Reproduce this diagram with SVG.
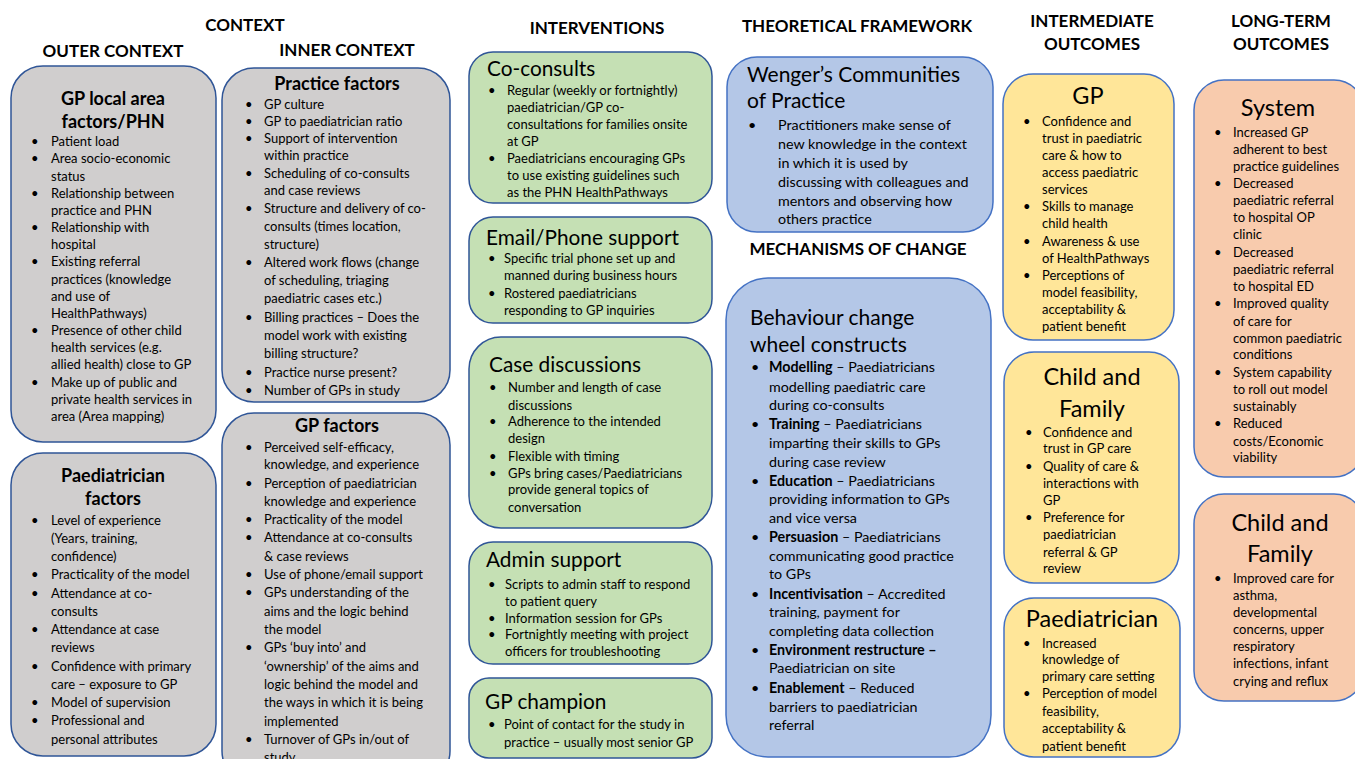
<svg xmlns="http://www.w3.org/2000/svg" width="1355" height="759" viewBox="0 0 1355 759">
<style>
text{font-family:Lato,"Liberation Sans",sans-serif;fill:#000}
.h{font-size:17px;font-weight:bold;text-anchor:middle}
.t{font-size:18px;font-weight:bold;text-anchor:middle}
.ti{font-size:20.8px}
.tc{font-size:23.5px;text-anchor:middle}
.b{font-size:13px}
.bb{font-size:14.3px}
.grey{fill:#d0cece;stroke:#2f5597;stroke-width:1.5}
.green{fill:#c5e0b4;stroke:#2f5597;stroke-width:1.5}
.blue{fill:#b4c7e7;stroke:#4472c4;stroke-width:1.5}
.yellow{fill:#ffe699;stroke:#4472c4;stroke-width:1.5}
.orange{fill:#f8cbad;stroke:#4472c4;stroke-width:1.5}
</style>
<rect width="1355" height="759" fill="#fff"/>
<g id="headers">
<text class="h" x="245" y="31">CONTEXT</text>
<text class="h" x="113" y="57">OUTER CONTEXT</text>
<text class="h" x="347" y="56">INNER CONTEXT</text>
<text class="h" x="597" y="34">INTERVENTIONS</text>
<text class="h" x="857" y="32">THEORETICAL FRAMEWORK</text>
<text class="h" x="858" y="255">MECHANISMS OF CHANGE</text>
<text class="h" x="1092" y="27">INTERMEDIATE</text>
<text class="h" x="1092" y="50">OUTCOMES</text>
<text class="h" x="1281" y="27">LONG-TERM</text>
<text class="h" x="1281" y="50">OUTCOMES</text>
</g>

<g id="gp-local-area">
<rect class="grey" x="11" y="66" width="205" height="376" rx="32"/>
<text class="t" x="113" y="105">GP local area</text>
<text class="t" x="113" y="128">factors/PHN</text>
<g class="b">
<text x="31" y="146">•</text><text x="51" y="146">Patient load</text>
<text x="31" y="163">•</text><text x="51" y="163">Area socio-economic</text>
<text x="51" y="180.5">status</text>
<text x="31" y="197.5">•</text><text x="51" y="197.5">Relationship between</text>
<text x="51" y="215">practice and PHN</text>
<text x="31" y="232">•</text><text x="51" y="232">Relationship with</text>
<text x="51" y="249">hospital</text>
<text x="31" y="266">•</text><text x="51" y="266">Existing referral</text>
<text x="51" y="283.5">practices (knowledge</text>
<text x="51" y="300.5">and use of</text>
<text x="51" y="318">HealthPathways)</text>
<text x="31" y="335">•</text><text x="51" y="335">Presence of other child</text>
<text x="51" y="352">health services (e.g.</text>
<text x="51" y="369">allied health) close to GP</text>
<text x="31" y="387">•</text><text x="51" y="387">Make up of public and</text>
<text x="51" y="404">private health services in</text>
<text x="51" y="421">area (Area mapping)</text>
</g>
</g>

<g id="paediatrician-factors">
<rect class="grey" x="11" y="453" width="205" height="303" rx="32"/>
<text class="t" x="113" y="482">Paediatrician</text>
<text class="t" x="113" y="505">factors</text>
<g class="b">
<text x="31" y="524.5">•</text><text x="51" y="524.5">Level of experience</text>
<text x="51" y="542.5">(Years, training,</text>
<text x="51" y="561">confidence)</text>
<text x="31" y="579">•</text><text x="51" y="579">Practicality of the model</text>
<text x="31" y="597.5">•</text><text x="51" y="597.5">Attendance at co-</text>
<text x="51" y="616">consults</text>
<text x="31" y="634">•</text><text x="51" y="634">Attendance at case</text>
<text x="51" y="652">reviews</text>
<text x="31" y="670.5">•</text><text x="51" y="670.5">Confidence with primary</text>
<text x="51" y="689">care – exposure to GP</text>
<text x="31" y="707">•</text><text x="51" y="707">Model of supervision</text>
<text x="31" y="725">•</text><text x="51" y="725">Professional and</text>
<text x="51" y="743.5">personal attributes</text>
</g>
</g>

<g id="practice-factors">
<rect class="grey" x="222" y="68" width="228" height="334" rx="32"/>
<text class="t" x="337" y="90">Practice factors</text>
<g class="b">
<text x="245" y="108.5">•</text><text x="264" y="108.5">GP culture</text>
<text x="245" y="126">•</text><text x="264" y="126">GP to paediatrician ratio</text>
<text x="245" y="142.5">•</text><text x="264" y="142.5">Support of intervention</text>
<text x="264" y="160">within practice</text>
<text x="245" y="177.5">•</text><text x="264" y="177.5">Scheduling of co-consults</text>
<text x="264" y="195">and case reviews</text>
<text x="245" y="212.5">•</text><text x="264" y="212.5">Structure and delivery of co-</text>
<text x="264" y="231">consults (times location,</text>
<text x="264" y="249">structure)</text>
<text x="245" y="267">•</text><text x="264" y="267">Altered work flows (change</text>
<text x="264" y="285">of scheduling, triaging</text>
<text x="264" y="303">paediatric cases etc.)</text>
<text x="245" y="322">•</text><text x="264" y="322">Billing practices – Does the</text>
<text x="264" y="340">model work with existing</text>
<text x="264" y="358">billing structure?</text>
<text x="245" y="377">•</text><text x="264" y="377">Practice nurse present?</text>
<text x="245" y="395">•</text><text x="264" y="395">Number of GPs in study</text>
</g>
</g>

<g id="gp-factors">
<rect class="grey" x="222" y="413" width="228" height="370" rx="32"/>
<text class="t" x="337" y="432">GP factors</text>
<g class="b">
<text x="245" y="451.5">•</text><text x="264" y="451.5">Perceived self-efficacy,</text>
<text x="264" y="469">knowledge, and experience</text>
<text x="245" y="487.5">•</text><text x="264" y="487.5">Perception of paediatrician</text>
<text x="264" y="505.5">knowledge and experience</text>
<text x="245" y="523.5">•</text><text x="264" y="523.5">Practicality of the model</text>
<text x="245" y="542">•</text><text x="264" y="542">Attendance at co-consults</text>
<text x="264" y="560.5">&amp; case reviews</text>
<text x="245" y="578.5">•</text><text x="264" y="578.5">Use of phone/email support</text>
<text x="245" y="597">•</text><text x="264" y="597">GPs understanding of the</text>
<text x="264" y="615.5">aims and the logic behind</text>
<text x="264" y="633.5">the model</text>
<text x="245" y="652">•</text><text x="264" y="652">GPs ‘buy into’ and</text>
<text x="264" y="670.5">‘ownership’ of the aims and</text>
<text x="264" y="688.5">logic behind the model and</text>
<text x="264" y="707">the ways in which it is being</text>
<text x="264" y="725.5">implemented</text>
<text x="245" y="743.5">•</text><text x="264" y="743.5">Turnover of GPs in/out of</text>
<text x="264" y="762">study</text>
</g>
</g>

<g id="co-consults">
<rect class="green" x="469" y="52" width="243" height="151" rx="24"/>
<text class="ti" x="487" y="76">Co-consults</text>
<g class="b">
<text x="488" y="95">•</text><text x="507" y="95">Regular (weekly or fortnightly)</text>
<text x="507" y="112">paediatrician/GP co-</text>
<text x="507" y="129">consultations for families onsite</text>
<text x="507" y="146">at GP</text>
<text x="488" y="163">•</text><text x="507" y="163">Paediatricians encouraging GPs</text>
<text x="507" y="180">to use existing guidelines such</text>
<text x="507" y="197">as the PHN HealthPathways</text>
</g>
</g>

<g id="email-phone-support">
<rect class="green" x="469" y="217" width="243" height="106" rx="24"/>
<text class="ti" x="486" y="245">Email/Phone support</text>
<g class="b">
<text x="488" y="262.5">•</text><text x="504" y="262.5">Specific trial phone set up and</text>
<text x="504" y="280">manned during business hours</text>
<text x="488" y="297.5">•</text><text x="504" y="297.5">Rostered paediatricians</text>
<text x="504" y="315">responding to GP inquiries</text>
</g>
</g>

<g id="case-discussions">
<rect class="green" x="469" y="337" width="243" height="191" rx="32"/>
<text class="ti" x="489" y="372">Case discussions</text>
<g class="b">
<text x="489" y="391.5">•</text><text x="508" y="391.5">Number and length of case</text>
<text x="508" y="409.5">discussions</text>
<text x="489" y="425.5">•</text><text x="508" y="425.5">Adherence to the intended</text>
<text x="508" y="442.5">design</text>
<text x="489" y="460.5">•</text><text x="508" y="460.5">Flexible with timing</text>
<text x="489" y="477.5">•</text><text x="508" y="477.5">GPs bring cases/Paediatricians</text>
<text x="508" y="493.5">provide general topics of</text>
<text x="508" y="511.5">conversation</text>
</g>
</g>

<g id="admin-support">
<rect class="green" x="469" y="542" width="243" height="122" rx="24"/>
<text class="ti" x="486" y="567">Admin support</text>
<g class="b">
<text x="488" y="588.5">•</text><text x="505" y="588.5">Scripts to admin staff to respond</text>
<text x="505" y="605.5">to patient query</text>
<text x="488" y="622.5">•</text><text x="505" y="622.5">Information session for GPs</text>
<text x="488" y="638.5">•</text><text x="505" y="638.5">Fortnightly meeting with project</text>
<text x="505" y="655.5">officers for troubleshooting</text>
</g>
</g>

<g id="gp-champion">
<rect class="green" x="469" y="678" width="243" height="80" rx="20"/>
<text class="ti" x="485" y="709">GP champion</text>
<g class="b">
<text x="488" y="728.5">•</text><text x="504" y="728.5">Point of contact for the study in</text>
<text x="504" y="746.5">practice – usually most senior GP</text>
</g>
</g>

<g id="wenger">
<rect class="blue" x="727" y="57" width="266" height="175" rx="30"/>
<text class="ti" x="747" y="82" style="font-size:21px">Wenger’s Communities</text>
<text class="ti" x="747" y="108" style="font-size:21px">of Practice</text>
<g class="bb">
<text x="748" y="130">•</text><text x="778" y="130">Practitioners make sense of</text>
<text x="778" y="149">new knowledge in the context</text>
<text x="778" y="168">in which it is used by</text>
<text x="778" y="187">discussing with colleagues and</text>
<text x="778" y="206">mentors and observing how</text>
<text x="778" y="224">others practice</text>
</g>
</g>

<g id="behaviour-change">
<rect class="blue" x="726" y="278" width="265" height="479" rx="42"/>
<text class="ti" x="750" y="325" style="font-size:21px">Behaviour change</text>
<text class="ti" x="750" y="352" style="font-size:21px">wheel constructs</text>
<g class="bb">
<text x="751" y="372">•</text><text x="769" y="372"><tspan font-weight="bold">Modelling</tspan> – Paediatricians</text>
<text x="769" y="392">modelling paediatric care</text>
<text x="769" y="410">during co-consults</text>
<text x="751" y="429">•</text><text x="769" y="429"><tspan font-weight="bold">Training</tspan> – Paediatricians</text>
<text x="769" y="448">imparting their skills to GPs</text>
<text x="769" y="467">during case review</text>
<text x="751" y="486">•</text><text x="769" y="486"><tspan font-weight="bold">Education</tspan> – Paediatricians</text>
<text x="769" y="504">providing information to GPs</text>
<text x="769" y="523">and vice versa</text>
<text x="751" y="542">•</text><text x="769" y="542"><tspan font-weight="bold">Persuasion</tspan> – Paediatricians</text>
<text x="769" y="561">communicating good practice</text>
<text x="769" y="579">to GPs</text>
<text x="751" y="599">•</text><text x="769" y="599"><tspan font-weight="bold">Incentivisation</tspan> – Accredited</text>
<text x="769" y="617">training, payment for</text>
<text x="769" y="636">completing data collection</text>
<text x="751" y="655">•</text><text x="769" y="655"><tspan font-weight="bold">Environment restructure –</tspan></text>
<text x="769" y="673">Paediatrician on site</text>
<text x="751" y="693">•</text><text x="769" y="693"><tspan font-weight="bold">Enablement</tspan> – Reduced</text>
<text x="769" y="712">barriers to paediatrician</text>
<text x="769" y="730">referral</text>
</g>
</g>

<g id="int-gp">
<rect class="yellow" x="1003" y="74" width="171" height="266" rx="30"/>
<text class="tc" x="1088" y="104">GP</text>
<g class="b">
<text x="1023" y="125.5">•</text><text x="1042" y="125.5">Confidence and</text>
<text x="1042" y="142.5">trust in paediatric</text>
<text x="1042" y="159.5">care &amp; how to</text>
<text x="1042" y="176.5">access paediatric</text>
<text x="1042" y="193.5">services</text>
<text x="1023" y="210.5">•</text><text x="1042" y="210.5">Skills to manage</text>
<text x="1042" y="227.5">child health</text>
<text x="1023" y="245.5">•</text><text x="1042" y="245.5">Awareness &amp; use</text>
<text x="1042" y="262.5">of HealthPathways</text>
<text x="1023" y="279.5">•</text><text x="1042" y="279.5">Perceptions of</text>
<text x="1042" y="296.5">model feasibility,</text>
<text x="1042" y="313.5">acceptability &amp;</text>
<text x="1042" y="330.5">patient benefit</text>
</g>
</g>

<g id="int-child-family">
<rect class="yellow" x="1004" y="352" width="175" height="231" rx="30"/>
<text class="tc" x="1092" y="385">Child and</text>
<text class="tc" x="1092" y="417">Family</text>
<g class="b">
<text x="1025" y="436.5">•</text><text x="1043" y="436.5">Confidence and</text>
<text x="1043" y="452.5">trust in GP care</text>
<text x="1025" y="470.5">•</text><text x="1043" y="470.5">Quality of care &amp;</text>
<text x="1043" y="487.5">interactions with</text>
<text x="1043" y="504.5">GP</text>
<text x="1025" y="521.5">•</text><text x="1043" y="521.5">Preference for</text>
<text x="1043" y="538.5">paediatrician</text>
<text x="1043" y="556.5">referral &amp; GP</text>
<text x="1043" y="572.5">review</text>
</g>
</g>

<g id="int-paediatrician">
<rect class="yellow" x="1004" y="598" width="176" height="159" rx="30"/>
<text class="tc" x="1092" y="627">Paediatrician</text>
<g class="b">
<text x="1023" y="647.5">•</text><text x="1042" y="647.5">Increased</text>
<text x="1042" y="663.5">knowledge of</text>
<text x="1042" y="680.5">primary care setting</text>
<text x="1023" y="697.5">•</text><text x="1042" y="697.5">Perception of model</text>
<text x="1042" y="715.5">feasibility,</text>
<text x="1042" y="732.5">acceptability &amp;</text>
<text x="1042" y="750.5">patient benefit</text>
</g>
</g>

<g id="lt-system">
<rect class="orange" x="1194" y="80" width="170" height="397" rx="30"/>
<text class="tc" x="1278" y="116">System</text>
<g class="b">
<text x="1214" y="136.5">•</text><text x="1233" y="136.5">Increased GP</text>
<text x="1233" y="153.5">adherent to best</text>
<text x="1233" y="170.5">practice guidelines</text>
<text x="1214" y="187.5">•</text><text x="1233" y="187.5">Decreased</text>
<text x="1233" y="204.5">paediatric referral</text>
<text x="1233" y="221.5">to hospital OP</text>
<text x="1233" y="238.5">clinic</text>
<text x="1214" y="256.5">•</text><text x="1233" y="256.5">Decreased</text>
<text x="1233" y="273.5">paediatric referral</text>
<text x="1233" y="290.5">to hospital ED</text>
<text x="1214" y="307.5">•</text><text x="1233" y="307.5">Improved quality</text>
<text x="1233" y="325.5">of care for</text>
<text x="1233" y="342.5">common paediatric</text>
<text x="1233" y="358.5">conditions</text>
<text x="1214" y="376.5">•</text><text x="1233" y="376.5">System capability</text>
<text x="1233" y="393.5">to roll out model</text>
<text x="1233" y="410.5">sustainably</text>
<text x="1214" y="427.5">•</text><text x="1233" y="427.5">Reduced</text>
<text x="1233" y="445.5">costs/Economic</text>
<text x="1233" y="461.5">viability</text>
</g>
</g>

<g id="lt-child-family">
<rect class="orange" x="1194" y="494" width="170" height="207" rx="30"/>
<text class="tc" x="1280" y="531">Child and</text>
<text class="tc" x="1280" y="562">Family</text>
<g class="b">
<text x="1214" y="582.5">•</text><text x="1233" y="582.5">Improved care for</text>
<text x="1233" y="599.5">asthma,</text>
<text x="1233" y="616.5">developmental</text>
<text x="1233" y="633.5">concerns, upper</text>
<text x="1233" y="650.5">respiratory</text>
<text x="1233" y="667.5">infections, infant</text>
<text x="1233" y="685.5">crying and reflux</text>
</g>
</g>
</svg>
